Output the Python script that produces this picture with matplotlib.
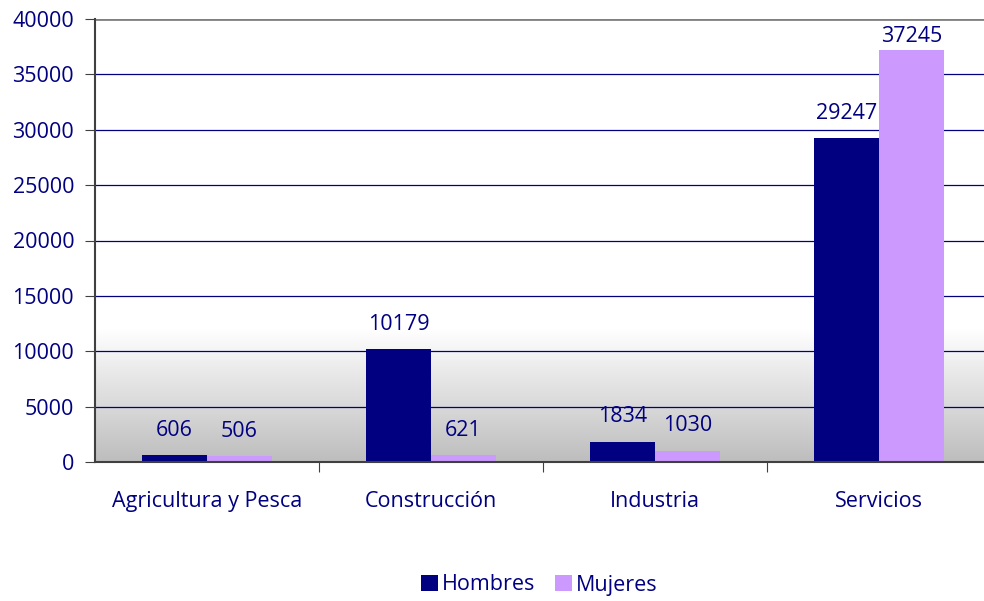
import numpy as np
import matplotlib.pyplot as plt
from matplotlib.colors import LinearSegmentedColormap

categories = ["Agricultura y Pesca", "Construcción", "Industria", "Servicios"]
hombres = [606, 10179, 1834, 29247]
mujeres = [506, 621, 1030, 37245]
series_names = ["Hombres", "Mujeres"]

navy = "#000080"
lilac = "#CC99FF"
fs = 15.5

plt.rcParams["font.family"] = ["Open Sans", "DejaVu Sans"]

fig = plt.figure(figsize=(9.84, 6.01), dpi=100)
ax = fig.add_axes([95 / 984, 1 - 462 / 601, 896 / 984, 443 / 601])

x = np.arange(len(categories))
w = 0.29

# grey gradient at the bottom of the plot area
grad = np.linspace(0, 1, 256).reshape(-1, 1)
cmap = LinearSegmentedColormap.from_list("g", ["#bdbdbd", "#ffffff"])
ax.imshow(grad, cmap=cmap, aspect="auto", origin="lower",
          extent=[-0.5, 3.5, 0, 12000], zorder=0)

for yv in range(5000, 40000, 5000):
    ax.axhline(yv, color=navy, lw=0.9, zorder=1)
ax.axhline(40000, color="#808080", lw=2, zorder=1)

b1 = ax.bar(x - w / 2, hombres, w, color=navy, label=series_names[0], zorder=2)
b2 = ax.bar(x + w / 2, mujeres, w, color=lilac, label=series_names[1], zorder=2)

# labels sit above the bars, but are kept inside the plot area
for bars, vals in ((b1, hombres), (b2, mujeres)):
    for r, v in zip(bars, vals):
        ty = min(v + 2250, 38400)
        ax.text(r.get_x() + r.get_width() / 2, ty, str(v),
                ha="center", va="center", color=navy, fontsize=fs)

ax.set_xlim(-0.5, 3.5)
ax.set_ylim(0, 40000)
ax.set_yticks(range(0, 40001, 5000))
ax.tick_params(axis="y", colors="#404040", labelcolor=navy, labelsize=fs,
               length=7, pad=8, direction="out")
ax.set_xticks(np.arange(0.5, 3.5, 1))
ax.set_xticklabels([])
ax.set_xticks(x, minor=True)
ax.set_xticklabels(categories, minor=True)
ax.tick_params(axis="x", which="major", length=7, colors="#404040")
ax.tick_params(axis="x", which="minor", length=0, pad=21,
               labelcolor=navy, labelsize=fs)

for s in ("top", "right"):
    ax.spines[s].set_visible(False)
for s in ("left", "bottom"):
    ax.spines[s].set_color("#404040")
    ax.spines[s].set_linewidth(1.5)

leg = fig.legend(handles=[b1, b2], loc="center", bbox_to_anchor=(0.548, 1 - 585 / 601),
                 ncol=2, frameon=False, fontsize=fs, handlelength=0.8,
                 handleheight=0.8, handletextpad=0.2, columnspacing=0.9)
for t in leg.get_texts():
    t.set_color(navy)

fig.savefig("out.png", dpi=100)
